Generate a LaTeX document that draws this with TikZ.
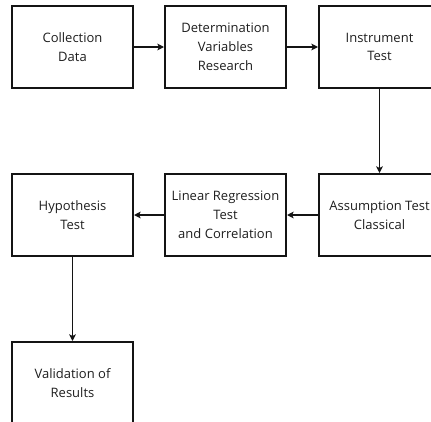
\documentclass[tikz,border=0pt]{standalone}
\usepackage{fontspec}
\setmainfont{Open Sans}
\usepackage{tikz}
\usetikzlibrary{arrows.meta}
\definecolor{tx}{RGB}{30,30,30}
\definecolor{ln}{RGB}{20,20,20}
\tikzset{
  stepbox/.style={draw=ln,line width=0.06cm,minimum width=3.63cm,minimum height=2.46cm,
    align=center,text=tx,font=\fontsize{11.1}{16}\selectfont,inner sep=0pt},
  flow/.style={-{Stealth[length=2mm,width=2mm,inset=0.5mm]},draw=ln,line width=0.045cm}
}

\begin{document}
\begin{tikzpicture}[x=0.03cm,y=-0.03cm]
  \useasboundingbox (0,0) rectangle (431,421);

  % top row
  \node[stepbox] (collect) at (72.5,47) {Collection\\Data};
  \node[stepbox] (determ) at (225.5,47) {Determination\\Variables\\Research};
  \node[stepbox] (instr) at (379.5,47) {Instrument\\Test};

  % middle row
  \node[stepbox] (hypo) at (72.5,215) {Hypothesis\\Test};
  \node[stepbox] (linreg) at (225.5,215) {Linear Regression\\Test\\and Correlation};
  \node[stepbox] (assum) at (379.5,215) {Assumption Test\\Classical};

  % bottom
  \node[stepbox] (valid) at (72.5,383) {Validation of\\Results};

  \draw[flow] (collect) -- (determ);
  \draw[flow] (determ) -- (instr);
  \draw[flow] (instr) -- (assum);
  \draw[flow] (assum) -- (linreg);
  \draw[flow] (linreg) -- (hypo);
  \draw[flow] (hypo) -- (valid);
\end{tikzpicture}
\end{document}
